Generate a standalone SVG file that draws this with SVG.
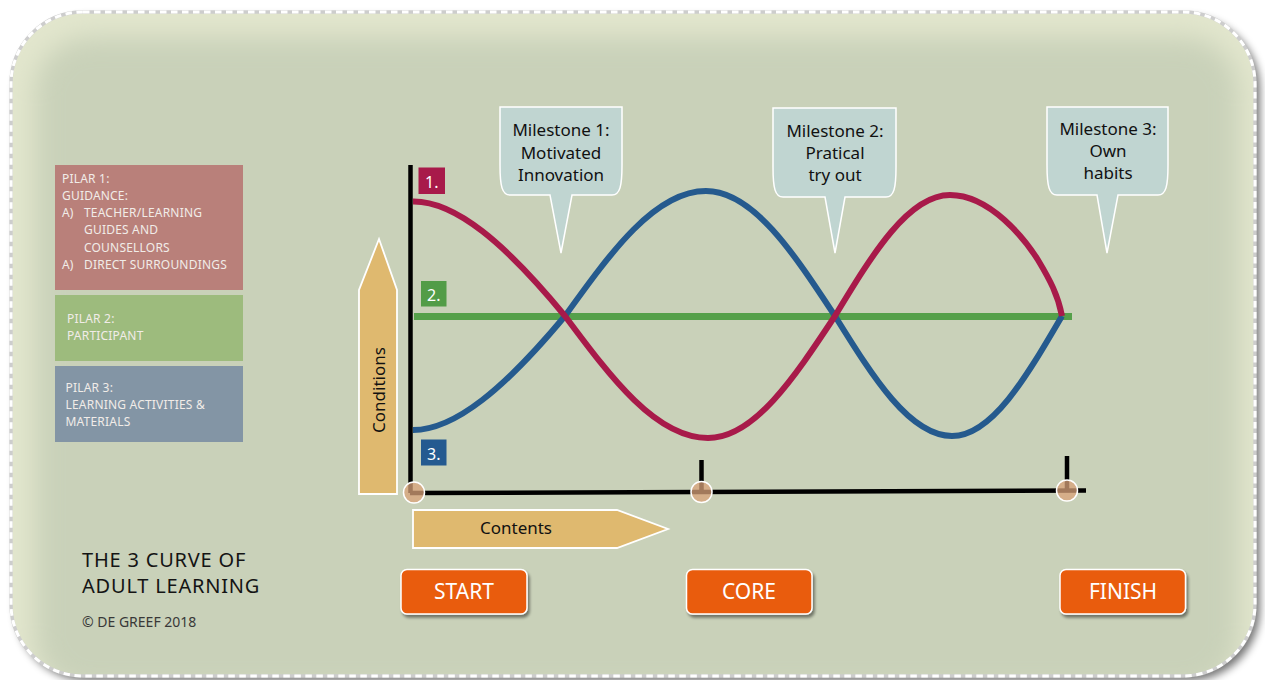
<svg xmlns="http://www.w3.org/2000/svg" width="1265" height="680" viewBox="0 0 1265 680">
  <defs>
    <filter id="frameShadow" x="-5%" y="-5%" width="110%" height="112%">
      <feGaussianBlur in="SourceAlpha" stdDeviation="4"/>
      <feOffset dx="5" dy="5" result="b"/>
      <feComponentTransfer><feFuncA type="linear" slope="0.55"/></feComponentTransfer>
      <feMerge><feMergeNode/><feMergeNode in="SourceGraphic"/></feMerge>
    </filter>
    <filter id="soft" x="-10%" y="-10%" width="120%" height="120%">
      <feGaussianBlur stdDeviation="13"/>
    </filter>
    <filter id="btnShadow" x="-10%" y="-20%" width="125%" height="150%">
      <feGaussianBlur in="SourceAlpha" stdDeviation="1.5"/>
      <feOffset dx="2" dy="3" result="b"/>
      <feComponentTransfer><feFuncA type="linear" slope="0.45"/></feComponentTransfer>
      <feMerge><feMergeNode/><feMergeNode in="SourceGraphic"/></feMerge>
    </filter>
    <clipPath id="frameClip">
      <rect x="11" y="12" width="1244" height="664" rx="72"/>
    </clipPath>
  </defs>
  <style>
    text { font-family: "Noto Sans", "Open Sans", "Liberation Sans", sans-serif; }
    .pilar { fill: #f1ece8; font-size: 12px; letter-spacing: 0.2px; }
    .callout { fill: #c0d5d1; stroke: #ffffff; stroke-width: 1.5; }
    .callout-text { fill: #111111; font-size: 17px; text-anchor: middle; }
    .num-text { fill: #ffffff; font-size: 16px; }
    .axis { stroke: #000000; stroke-width: 4.5; fill: none; }
    .knob { fill: #d8a27a; fill-opacity: 0.75; stroke: #ffffff; stroke-width: 1.5; }
    .arrow-shape { fill: #dfb96f; stroke: #ffffff; stroke-width: 1.8; }
    .arrow-text { fill: #111111; font-size: 17px; }
    .btn { fill: #e95c0e; stroke: #ffffff; stroke-width: 1.5; }
    .btn-text { fill: #ffffff; font-size: 21px; text-anchor: middle; }
    .curve { fill: none; stroke-width: 6; stroke-linecap: butt; }
  </style>

  <!-- background frame with soft light rim along the top and left -->
  <g id="frame">
    <rect x="11" y="12" width="1244" height="664" rx="72" fill="#e2e6cd" filter="url(#frameShadow)"/>
    <g clip-path="url(#frameClip)">
      <rect x="35" y="37" width="1204" height="655" rx="55" fill="#c9d1b9" filter="url(#soft)"/>
    </g>
    <rect x="11" y="12" width="1244" height="664" rx="72" fill="none" stroke="#cdcdcd" stroke-width="3.4"/>
    <rect x="11" y="12" width="1244" height="664" rx="72" fill="none" stroke="#ffffff" stroke-width="3" stroke-dasharray="6.5 4.5"/>
  </g>

  <!-- pillar legend -->
  <g id="pilar1">
    <rect x="55" y="165" width="188" height="125" fill="#b9807a"/>
    <text class="pilar" x="62" y="183">PILAR 1:</text>
    <text class="pilar" x="62" y="200">GUIDANCE:</text>
    <text class="pilar" x="62" y="217">A)</text>
    <text class="pilar" x="84" y="217">TEACHER/LEARNING</text>
    <text class="pilar" x="84" y="234">GUIDES AND</text>
    <text class="pilar" x="84" y="251.5">COUNSELLORS</text>
    <text class="pilar" x="62" y="269">A)</text>
    <text class="pilar" x="84" y="269">DIRECT SURROUNDINGS</text>
  </g>
  <g id="pilar2">
    <rect x="55" y="295" width="188" height="66" fill="#9dbb7d"/>
    <text class="pilar" x="67" y="323">PILAR 2:</text>
    <text class="pilar" x="67" y="340">PARTICIPANT</text>
  </g>
  <g id="pilar3">
    <rect x="55" y="366" width="188" height="76" fill="#8395a5"/>
    <text class="pilar" x="65.5" y="391.5">PILAR 3:</text>
    <text class="pilar" x="65.5" y="408.5">LEARNING ACTIVITIES &amp;</text>
    <text class="pilar" x="65.5" y="425.5">MATERIALS</text>
  </g>

  <!-- title -->
  <g id="title">
    <text x="82" y="567" fill="#141414" font-size="20" letter-spacing="0.8">THE 3 CURVE OF</text>
    <text x="82" y="593" fill="#141414" font-size="20" letter-spacing="0.8">ADULT LEARNING</text>
    <text x="82" y="627" fill="#383838" font-size="14">© DE GREEF 2018</text>
  </g>

  <!-- axis arrows -->
  <g id="conditions">
    <path class="arrow-shape" d="M359,494 V290 L379,239 L397,290 V494 Z"/>
    <text class="arrow-text" transform="translate(385,390) rotate(-90)" text-anchor="middle">Conditions</text>
  </g>
  <g id="contents">
    <path class="arrow-shape" d="M413,510 H617 L668,529 L617,548 H413 Z"/>
    <text class="arrow-text" x="516" y="534" text-anchor="middle">Contents</text>
  </g>

  <!-- connectors: axes, ticks and curves -->
  <g id="connectors">
    <line class="axis" x1="410.5" y1="165" x2="410.5" y2="493"/>
    <line class="axis" x1="410" y1="493" x2="1086" y2="490.5"/>
    <line class="axis" x1="701.5" y1="460" x2="701.5" y2="492"/>
    <line class="axis" x1="1067" y1="456" x2="1067" y2="491"/>

    <line x1="414" y1="316.5" x2="1072" y2="316.5" stroke="#55a04a" stroke-width="7"/>

    <path class="curve" stroke="#255a8e" d="M413,430 C455,430 505,388 565,316 C611,252 655,191 706,191 C752.7,191 792.9,252 835,316 C873.2,377.5 909.7,436 952,436 C991.8,436 1026.1,377.5 1062,316"/>
    <path class="curve" stroke="#a81a4a" d="M413,201.5 C455,201 505,243 565,316 C611.6,378.5 656.2,438 708,438 C754,438 793.6,378.5 835,316 C872.5,254 908.4,195 950,195 C990.5,195 1025.5,240 1038,260 C1050,280 1058,295 1062,316"/>

    <circle class="knob" cx="414" cy="492.5" r="10.5"/>
    <circle class="knob" cx="701.5" cy="492" r="10.5"/>
    <circle class="knob" cx="1067" cy="490.5" r="10.5"/>
  </g>

  <!-- curve number tags -->
  <g id="tag1">
    <rect x="418.5" y="167.5" width="26.5" height="26.5" fill="#a81a4a"/>
    <text class="num-text" x="425" y="188">1.</text>
  </g>
  <g id="tag2">
    <rect x="421" y="281" width="25.5" height="25.5" fill="#529c47"/>
    <text class="num-text" x="427" y="301">2.</text>
  </g>
  <g id="tag3">
    <rect x="421" y="439.5" width="25.5" height="26" fill="#245a90"/>
    <text class="num-text" x="427" y="460">3.</text>
  </g>

  <!-- milestone callouts -->
  <g id="milestone1">
    <path class="callout" d="M500,107 H622 V165 C622,186 620,195 612,195 H572 L561,253 L550,195 H510 C502,195 500,186 500,165 Z"/>
    <text class="callout-text" x="561" y="136">Milestone 1:</text>
    <text class="callout-text" x="561" y="158.5">Motivated</text>
    <text class="callout-text" x="561" y="181">Innovation</text>
  </g>
  <g id="milestone2">
    <path class="callout" d="M773,108 H896 V167 C896,188 894,197 886,197 H845 L835,253 L825,197 H783 C775,197 773,188 773,167 Z"/>
    <text class="callout-text" x="835" y="137">Milestone 2:</text>
    <text class="callout-text" x="835" y="159">Pratical</text>
    <text class="callout-text" x="835" y="181">try out</text>
  </g>
  <g id="milestone3">
    <path class="callout" d="M1047,107 H1168 V165 C1168,186 1166,195 1158,195 H1118 L1107,253 L1097,195 H1057 C1049,195 1047,186 1047,165 Z"/>
    <text class="callout-text" x="1108" y="134.5">Milestone 3:</text>
    <text class="callout-text" x="1108" y="157">Own</text>
    <text class="callout-text" x="1108" y="179">habits</text>
  </g>

  <!-- phase buttons -->
  <g id="start">
    <rect class="btn" x="401" y="569.5" width="126" height="44.5" rx="6" filter="url(#btnShadow)"/>
    <text class="btn-text" x="464" y="599">START</text>
  </g>
  <g id="core">
    <rect class="btn" x="686.5" y="569.5" width="125.5" height="44.5" rx="6" filter="url(#btnShadow)"/>
    <text class="btn-text" x="749" y="599">CORE</text>
  </g>
  <g id="finish">
    <rect class="btn" x="1060" y="569.5" width="125.5" height="44.5" rx="6" filter="url(#btnShadow)"/>
    <text class="btn-text" x="1123" y="599">FINISH</text>
  </g>
</svg>
